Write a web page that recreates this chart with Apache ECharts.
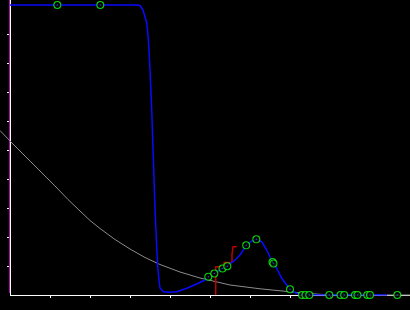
<!DOCTYPE html>
<html>
<head>
<meta charset="utf-8">
<script src="https://cdn.jsdelivr.net/npm/echarts@6/dist/echarts.min.js"></script>
<style>html,body{margin:0;padding:0;background:#000;}#c{width:410px;height:310px;}</style>
</head>
<body>
<div id="c"></div>
<script>
// x ticks and y ticks
const xTickValues = [1, 2, 3, 4, 5, 6, 7, 8, 9, 10];
const yTickValues = [1, 2, 3, 4, 5, 6, 7, 8, 9];

// blue fitted curve
const blueX = [0, 3.175, 3.25, 3.325, 3.418, 3.45, 3.475, 3.5, 3.525, 3.543, 3.568, 3.593, 3.618, 3.643, 3.668, 3.693, 3.725, 3.75, 3.833, 4.0, 4.168, 4.418, 4.668, 4.875, 5.1, 5.3, 5.583, 5.75, 5.908, 6.043, 6.158, 6.293, 6.418, 6.5, 6.575, 6.668, 6.793, 6.918, 7.0, 7.125, 7.25, 7.5, 9.425];
const blueY = [10, 10, 9.983, 9.828, 9.379, 8.966, 8.448, 7.759, 6.966, 6.379, 5.345, 4.31, 3.276, 2.414, 1.655, 0.966, 0.517, 0.241, 0.114, 0.093, 0.114, 0.231, 0.379, 0.517, 0.734, 0.914, 1.148, 1.379, 1.707, 1.862, 1.921, 1.838, 1.552, 1.31, 1.121, 0.914, 0.576, 0.345, 0.197, 0.079, 0.024, 0, 0];

// grey decaying curve
const greyX = [-0.25, 0, 0.375, 0.75, 1.125, 1.45, 1.75, 2.0, 2.25, 2.625, 3.0, 3.375, 3.75, 4.25, 4.75, 5.5, 6.25, 6.75, 7.25, 7.75, 8.25, 10];
const greyY = [5.672, 5.31, 4.793, 4.276, 3.759, 3.293, 2.897, 2.569, 2.293, 1.914, 1.586, 1.293, 1.052, 0.793, 0.586, 0.345, 0.214, 0.145, 0.076, 0.024, 0, 0];

// red step curve
const redX = [5.1425, 5.1425, 5.35, 5.35, 5.55, 5.55, 5.575, 5.575, 5.6675];
const redY = [0, 0.976, 0.976, 1.121, 1.121, 1.397, 1.397, 1.666, 1.666];

// green sample points
const ptsX = [1.183, 2.258, 4.958, 5.108, 5.313, 5.433, 5.905, 6.158, 6.5625, 6.5875, 7.0, 7.3, 7.3875, 7.4825, 7.9825, 8.2625, 8.355, 8.625, 8.6875, 8.9325, 9.0, 9.6825];
const ptsY = [10, 10, 0.631, 0.741, 0.914, 0.993, 1.714, 1.921, 1.138, 1.086, 0.197, 0, 0, 0, 0, 0, 0, 0, 0, 0, 0, 0];

// bottom axis baseline and magenta edge line beside the y axis
const baseX = [0, 10];
const baseY = [-0.0172, -0.0172];
const edgeX = [-0.0125, -0.0125];
const edgeY = [0.07, 10.1724];

const zip = (a, b) => a.map((v, i) => [v, b[i]]);

const chart = echarts.init(document.getElementById('c'), null, {renderer: 'canvas'});
chart.setOption({
  backgroundColor: '#000',
  animation: false,
  grid: {left: 0, right: 0, top: 0, bottom: 15, containLabel: false},
  xAxis: {
    type: 'value', min: -0.25, max: 10,
    axisLine: {show: false},
    axisTick: {show: true, inside: false, length: 3, customValues: xTickValues, lineStyle: {color: '#fff'}},
    axisLabel: {show: false},
    splitLine: {show: false}
  },
  yAxis: {
    type: 'value', min: 0, max: 10.1724,
    axisLine: {show: true, onZero: true, lineStyle: {color: '#fff', width: 1}},
    axisTick: {show: true, inside: false, length: 3, customValues: yTickValues, lineStyle: {color: '#fff'}},
    axisLabel: {show: false},
    splitLine: {show: false}
  },
  series: [
    {type: 'line', data: zip(edgeX, edgeY), clip: false, symbol: 'none', z: 1,
     lineStyle: {color: '#b010b0', width: 1}},
    {type: 'line', data: zip(baseX, baseY), clip: false, symbol: 'none', z: 1,
     lineStyle: {color: '#ffffff', width: 1}},
    {type: 'line', data: zip(greyX, greyY), clip: false, symbol: 'none', smooth: false, z: 3,
     lineStyle: {color: '#8c8c8c', width: 1}},
    {type: 'line', data: zip(redX, redY), symbol: 'none', z: 4,
     lineStyle: {color: '#c00000', width: 1.5}},
    {type: 'line', data: zip(blueX, blueY), symbol: 'none', z: 5,
     lineStyle: {color: '#0a0aff', width: 1.5}},
    {type: 'scatter', data: zip(ptsX, ptsY), clip: false, symbol: 'circle', symbolSize: 7, z: 6,
     itemStyle: {color: '#000', borderColor: '#10ff10', borderWidth: 1.1}},
    {type: 'scatter', data: zip(ptsX, ptsY), clip: false, symbol: 'circle', symbolSize: 1.5, z: 7,
     itemStyle: {color: '#1070a0'}}
  ]
});
</script>
</body>
</html>
